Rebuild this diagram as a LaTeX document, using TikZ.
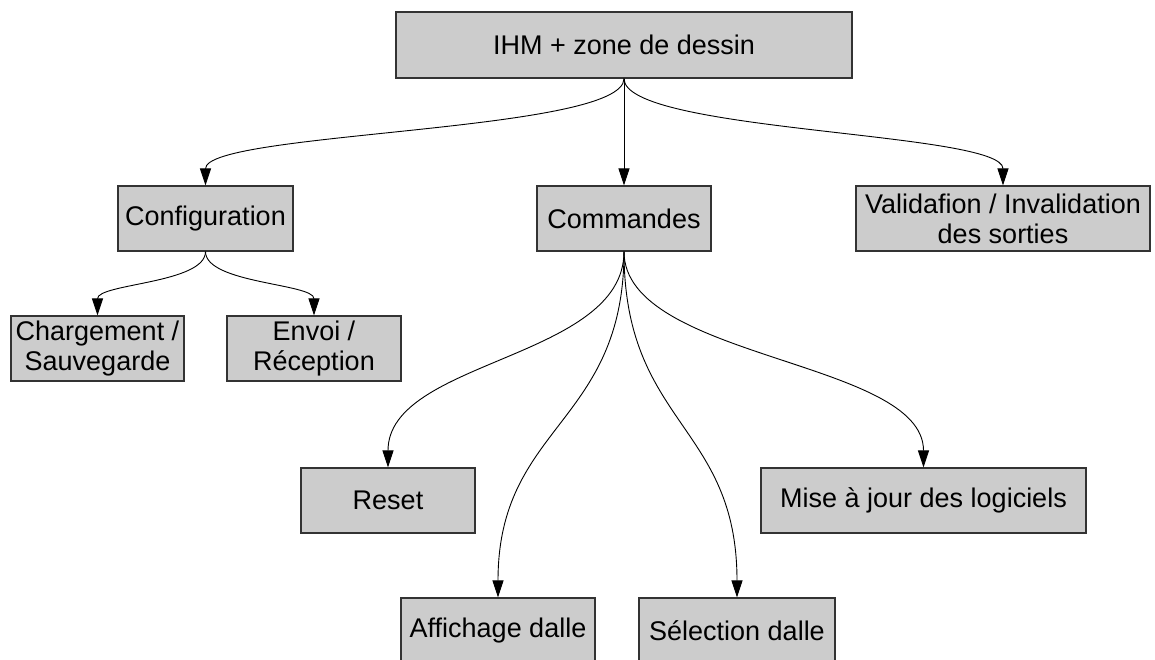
\documentclass[tikz,border=0pt]{standalone}
\usepackage{fontspec}
\setmainfont{Liberation Sans}
\usetikzlibrary{arrows.meta}
\tikzset{
  box/.style={draw=black!80, line width=1.1pt, fill=black!20, inner sep=0pt, align=center,
    font=\fontsize{27}{30}\selectfont, minimum height=65pt},
  arr/.style={draw=black, line width=0.9pt, -{Triangle[length=17pt,width=11pt]}}
}
\begin{document}
\begin{tikzpicture}[x=1pt,y=-1pt]
\useasboundingbox (0,0) rectangle (1155,659);
\node[box, minimum width=456pt, minimum height=66pt] (ihm) at (624,45) {IHM + zone de dessin};
\node[box, minimum width=175pt] (conf) at (205.5,218.5) {Configuration};
\node[box, minimum width=174pt] (cmd) at (624,218.5) {Commandes};
\node[box, minimum width=294pt] (valid) at (1003,218.5) {Validafion / Invalidation\\des sorties};
\node[box, minimum width=173pt] (charg) at (97.5,348.5) {Chargement /\\Sauvegarde};
\node[box, minimum width=174pt] (envoi) at (314,348.5) {Envoi /\\Réception};
\node[box, minimum width=174pt] (reset) at (388,500.5) {Reset};
\node[box, minimum width=325pt] (mise) at (923.5,500.5) {Mise à jour des logiciels};
\node[box, minimum width=194pt] (affich) at (498,630.5) {Affichage dalle};
\node[box, minimum width=196pt] (select) at (737,630.5) {Sélection dalle};

\draw[arr] (ihm.south) .. controls +(0,54) and +(0,-54) .. (conf.north);
\draw[arr] (ihm.south) -- (cmd.north);
\draw[arr] (ihm.south) .. controls +(0,54) and +(0,-54) .. (valid.north);
\draw[arr] (conf.south) .. controls +(0,32) and +(0,-32) .. (charg.north);
\draw[arr] (conf.south) .. controls +(0,32) and +(0,-32) .. (envoi.north);
\draw[arr] (cmd.south) .. controls +(0,108) and +(0,-108) .. (reset.north);
\draw[arr] (cmd.south) .. controls +(0,173) and +(0,-173) .. (affich.north);
\draw[arr] (cmd.south) .. controls +(0,173) and +(0,-173) .. (select.north);
\draw[arr] (cmd.south) .. controls +(0,108) and +(0,-108) .. (mise.north);
\end{tikzpicture}
\end{document}
